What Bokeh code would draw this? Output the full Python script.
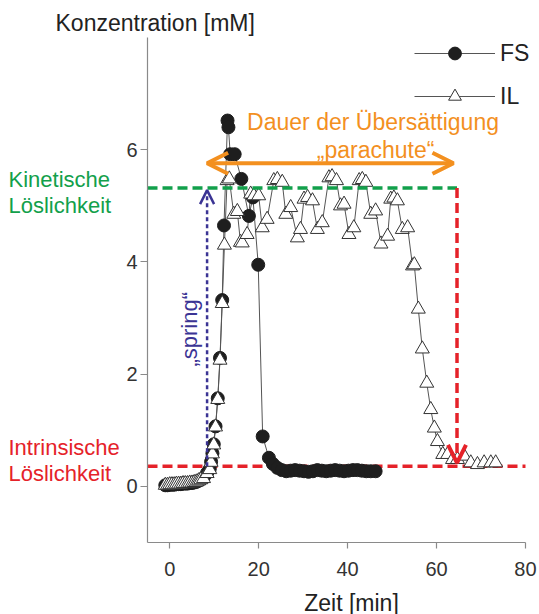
import math
from bokeh.plotting import figure
from bokeh.layouts import column, row
from bokeh.models import (ColumnDataSource, Label, Arrow, OpenHead, Legend,
                          LegendItem, FixedTicker, Range1d)
from bokeh.embed import file_html
from bokeh.resources import INLINE

# ---------------- data ----------------
fs_time = [-1.0, -0.5, 0.0, 0.5, 1.0, 1.5, 2.0, 2.5, 3.0, 3.5, 4.0, 4.5, 5.0, 5.5, 6.0, 6.5, 7.0,
           7.6, 8.4, 9.0, 9.3, 9.6, 9.9, 10.3, 10.8, 11.3, 11.8,
           12.2, 13.0, 13.2, 13.6, 14.6, 16.1, 17.8, 18.7, 19.9,
           20.9, 22.3,
           23.2, 24.2, 25.2, 26.2, 27.2, 28.2, 29.2, 30.2, 31.2, 32.2, 33.2, 34.2, 35.2, 36.2,
           37.2, 38.2, 39.2, 40.2, 41.2, 42.2, 43.2, 44.2, 45.2, 46.3]
fs_conc = [0.02, 0.02, 0.03, 0.03, 0.03, 0.04, 0.04, 0.04, 0.05, 0.05, 0.05, 0.06, 0.06, 0.07, 0.08, 0.10, 0.12,
           0.15, 0.24, 0.31, 0.44, 0.59, 0.75, 1.07, 1.57, 2.29, 3.32,
           4.65, 6.52, 6.40, 5.92, 5.92, 5.48, 4.82, 5.15, 3.95,
           0.89, 0.51,
           0.40, 0.33, 0.29, 0.27, 0.28, 0.29, 0.28, 0.27, 0.26, 0.27, 0.29, 0.28, 0.27, 0.28,
           0.29, 0.28, 0.27, 0.28, 0.29, 0.29, 0.28, 0.27, 0.27, 0.27]

il_time = [-1.0, -0.5, 0.0, 0.5, 1.0, 1.5, 2.0, 2.5, 3.0, 3.5, 4.0, 4.5, 5.0, 5.5, 6.0, 6.5, 7.0,
           7.6, 8.4, 9.0, 9.3, 9.6, 9.9, 10.3, 10.8, 11.3, 11.8,
           12.3, 12.9, 13.4, 14.4, 15.2, 15.9, 16.3, 17.4, 18.2, 18.9,
           20.0, 20.8, 21.9, 23.4, 24.2, 25.3, 26.1, 27.2, 28.7, 29.4,
           30.2, 31.0, 32.1, 33.2, 34.3, 35.8, 36.5, 37.5, 38.4, 39.2,
           40.3, 41.4, 42.6, 43.3, 44.1, 45.2, 46.3, 47.5, 49.0, 49.7,
           50.4, 51.2, 52.3, 53.5, 54.6, 55.0, 55.9, 56.8, 57.8, 58.7,
           59.5, 60.2, 61.4, 62.5, 63.6, 64.7, 66.2, 67.7, 69.2, 70.7,
           72.2, 73.3]
il_conc = [0.02, 0.02, 0.03, 0.03, 0.03, 0.04, 0.04, 0.04, 0.05, 0.05, 0.05, 0.06, 0.06, 0.07, 0.08, 0.10, 0.12,
           0.14, 0.23, 0.30, 0.43, 0.58, 0.74, 1.06, 1.55, 2.25, 3.26,
           4.30, 5.45, 5.48, 4.85, 4.90, 4.35, 4.34, 4.49, 5.21, 5.18,
           5.18, 4.61, 4.76, 5.45, 5.47, 5.42, 4.85, 4.97, 4.43, 4.58,
           5.12, 5.15, 5.09, 4.58, 4.70, 5.50, 5.52, 5.45, 5.00, 5.03,
           4.49, 4.61, 5.45, 5.47, 5.42, 4.85, 4.91, 4.32, 4.46, 5.12,
           5.14, 5.09, 4.58, 4.61, 3.93, 3.95, 3.16, 2.45, 1.84, 1.37,
           1.04, 0.80, 0.57, 0.57, 0.48, 0.48, 0.54, 0.42, 0.39, 0.42,
           0.42, 0.42]

x_ticks = [0, 20, 40, 60, 80]
y_ticks = [0, 2, 4, 6]
x_axis_bounds = (-5, 80)

kinetic_level = 5.32      # kinetische Löslichkeit [mM]
intrinsic_level = 0.36    # intrinsische Löslichkeit [mM]
spring_time = 8.4         # start of "spring" [min]
parachute_end = 64.6      # end of supersaturation [min]
parachute_arrow_end = 63.8
parachute_level = 5.76

FONT = "Liberation Sans"
GREEN = "#12a04b"
RED = "#e52229"
ORANGE = "#f3901f"
BLUE = "#3b3494"
GRAY_LINE = "#555555"
TXT = "#222222"


def bare(width, height, x_range, y_range, bottom=0):
    f = figure(width=width, height=height, x_range=x_range, y_range=y_range,
               output_backend="svg", toolbar_location=None,
               x_axis_type=None, y_axis_type=None,
               min_border_left=0, min_border_right=0, min_border_top=0,
               min_border_bottom=bottom)
    f.outline_line_color = None
    f.grid.visible = False
    return f


def lab(fig, x, y, text, color, size="23px", align="left", angle=0.0):
    fig.add_layout(Label(x=x, y=y, text=text, text_color=color, text_font=FONT,
                         text_font_size=size, text_align=align, text_baseline="middle",
                         angle=angle))


y_range = Range1d(-1, 8)

# ---------------- main figure ----------------
p = figure(width=417, height=547, x_range=Range1d(-5, 83.15), y_range=y_range,
           output_backend="svg", toolbar_location=None,
           min_border_left=25, min_border_right=0, min_border_top=0, min_border_bottom=42)
p.outline_line_color = None
p.grid.visible = False

for ax in (p.xaxis[0], p.yaxis[0]):
    ax.axis_line_color = "#8a8a8a"
    ax.axis_line_width = 1.2
    ax.major_tick_line_color = "#8a8a8a"
    ax.major_tick_line_width = 1.2
    ax.minor_tick_line_color = None
    ax.major_tick_in = 0
    ax.major_label_text_font = FONT
    ax.major_label_text_font_size = "20px"
    ax.major_label_text_color = "#333333"

p.xaxis.ticker = FixedTicker(ticks=x_ticks)
p.xaxis.bounds = x_axis_bounds
p.yaxis.ticker = FixedTicker(ticks=y_ticks)
p.xaxis.major_tick_out = 6
p.xaxis.major_label_standoff = 13
p.yaxis.major_tick_out = 7
p.yaxis.major_label_standoff = 3

# red intrinsic solubility line (behind data)
p.segment(x0=[x_axis_bounds[0]], y0=[intrinsic_level], x1=[x_axis_bounds[1]], y1=[intrinsic_level],
          line_color=RED, line_width=3.5, line_dash="10 5")

fs_src = ColumnDataSource(dict(t=fs_time, c=fs_conc))
il_src = ColumnDataSource(dict(t=il_time, c=il_conc))

il_line = p.line("t", "c", source=il_src, line_color=GRAY_LINE, line_width=1)
fs_line = p.line("t", "c", source=fs_src, line_color=GRAY_LINE, line_width=1)
fs_pts = p.scatter("t", "c", source=fs_src, marker="circle", size=13,
                   fill_color="#1e1e1e", line_color="#1e1e1e", line_width=1)
il_pts = p.scatter("t", "c", source=il_src, marker="triangle", size=14,
                   fill_color="white", line_color="#333333", line_width=1)

# green kinetic solubility line
p.segment(x0=[x_axis_bounds[0]], y0=[kinetic_level], x1=[parachute_end], y1=[kinetic_level],
          line_color=GREEN, line_width=3.5, line_dash="10 5")

# red vertical arrow (end of parachute)
p.add_layout(Arrow(x_start=parachute_end, y_start=kinetic_level,
                   x_end=parachute_end, y_end=0.42,
                   line_color=RED, line_width=3.5, line_dash="10 5",
                   end=OpenHead(size=18, line_color=RED, line_width=4)))

# blue "spring" arrow
p.add_layout(Arrow(x_start=spring_time, y_start=intrinsic_level,
                   x_end=spring_time, y_end=5.28,
                   line_color=BLUE, line_width=2.5, line_dash="4 3",
                   end=OpenHead(size=14, line_color=BLUE, line_width=2.5)))

# orange double arrow (parachute)
p.add_layout(Arrow(x_start=spring_time, y_start=parachute_level,
                   x_end=parachute_arrow_end, y_end=parachute_level,
                   line_color=ORANGE, line_width=4,
                   start=OpenHead(size=21, line_color=ORANGE, line_width=4),
                   end=OpenHead(size=21, line_color=ORANGE, line_width=4)))

lab(p, 17.4, 6.49, "Dauer der Übersättigung", ORANGE)
lab(p, 46.3, 6.00, "\u201eparachute\u201c", ORANGE, align="center")
lab(p, 4.45, 2.80, "\u201espring\u201c", BLUE, size="22px", align="center", angle=math.pi / 2)

legend = Legend(items=[LegendItem(label="FS", renderers=[fs_line, fs_pts]),
                       LegendItem(label="IL", renderers=[il_line, il_pts])],
                location=(267, 430), orientation="vertical",
                glyph_width=81, glyph_height=32, label_height=30, label_width=40,
                label_standoff=5, spacing=11, padding=0, margin=0,
                border_line_color=None, background_fill_alpha=0,
                label_text_font=FONT, label_text_font_size="23px",
                label_text_color=TXT)
p.add_layout(legend)

# ---------------- left text strip (shares the y scale) ----------------
left = bare(122, 547, Range1d(0, 122), y_range, bottom=42)
lab(left, 8, 5.47, "Kinetische", GREEN, size="22px")
lab(left, 8, 5.00, "Löslichkeit", GREEN, size="22px")
lab(left, 8, 0.69, "Intrinsische", RED, size="22px")
lab(left, 8, 0.225, "Löslichkeit", RED, size="22px")

# ---------------- top strip: y axis title ----------------
top = bare(539, 37, Range1d(0, 539), Range1d(0, 37))
lab(top, 55, 15, "Konzentration [mM]", TXT)

# ---------------- bottom strip: x axis title ----------------
bottom = bare(539, 30, Range1d(0, 539), Range1d(0, 30))
lab(bottom, 351, 12, "Zeit [min]", TXT, align="center")

layout = column(top, row(left, p), bottom)

open("out.html", "w").write(file_html(layout, INLINE))
